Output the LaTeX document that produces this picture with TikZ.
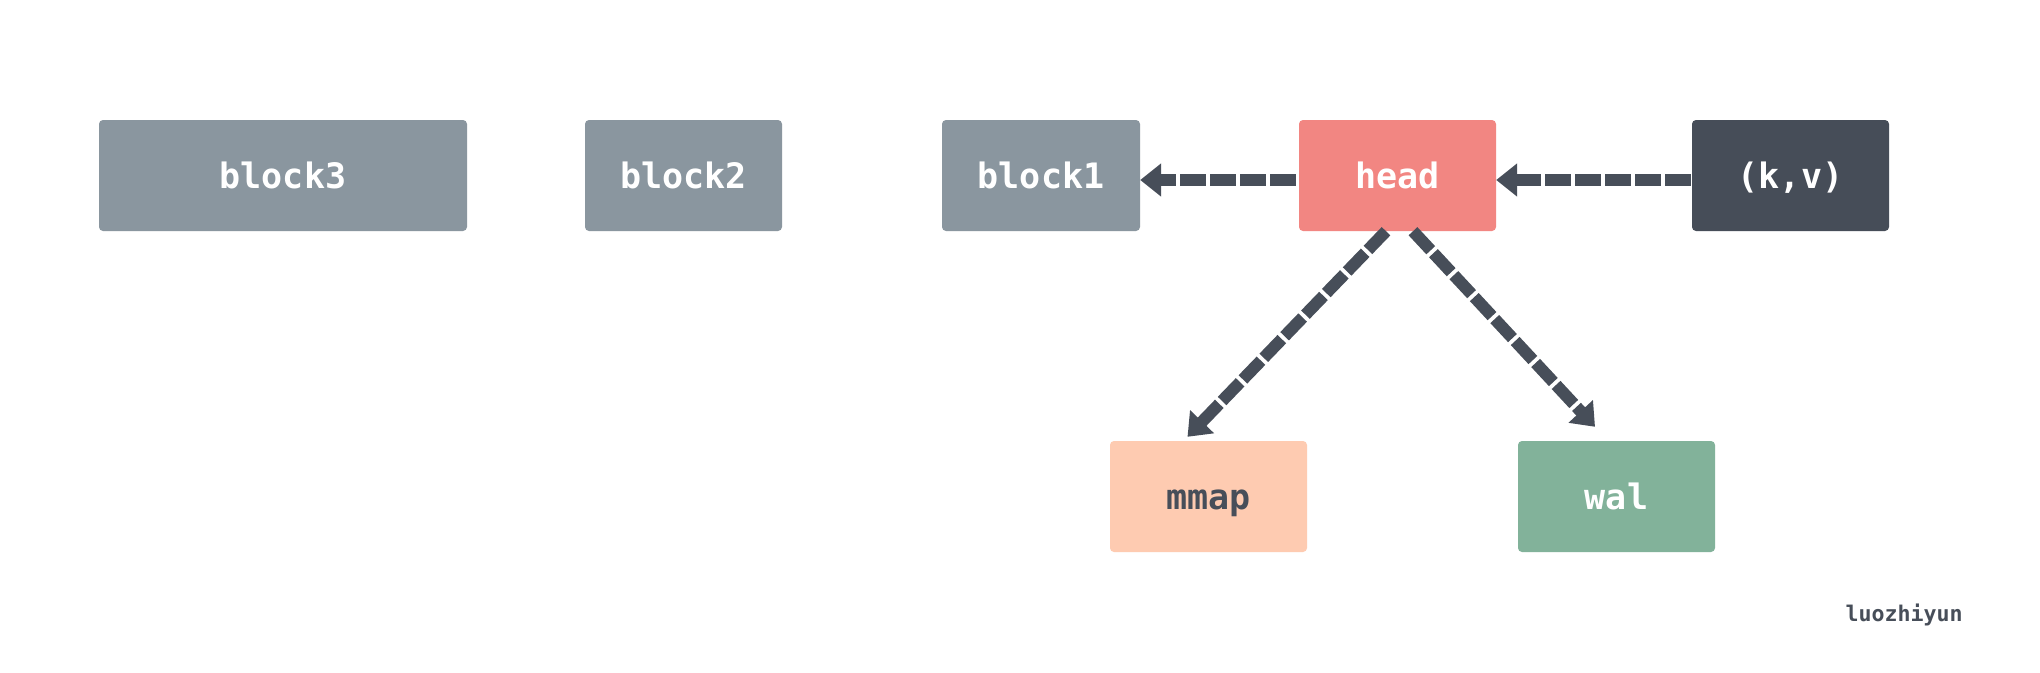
\documentclass[tikz,border=0pt]{standalone}
\usepackage{fontspec}
\setmonofont{DejaVu Sans Mono}
\usetikzlibrary{arrows.meta}
\definecolor{gblock}{HTML}{8A969F}
\definecolor{headc}{HTML}{F28682}
\definecolor{kvc}{HTML}{464D58}
\definecolor{mmapc}{HTML}{FECBB1}
\definecolor{walc}{HTML}{82B29A}
\definecolor{arrc}{HTML}{474E59}
\tikzset{
  box/.style={rectangle, rounded corners=4pt, minimum height=111pt, inner sep=0pt,
    text height=26.6pt, text depth=0pt, font=\ttfamily\bfseries\fontsize{35}{40}\selectfont, text=white},
  arr/.style={draw=arrc, line width=12pt, dash pattern=on 26pt off 4pt,
    -{Triangle[length=21pt,width=32pt]}}
}
\begin{document}
\begin{tikzpicture}[x=1pt,y=-1pt]
\useasboundingbox[fill=white] (0,0) rectangle (2040,672);
\node[box, fill=gblock, minimum width=368pt] (block3) at (283,175.5) {block3};
\node[box, fill=gblock, minimum width=197pt] (block2) at (683.5,175.5) {block2};
\node[box, fill=gblock, minimum width=198pt] (block1) at (1041,175.5) {block1};
\node[box, fill=headc, minimum width=197pt] (head) at (1397.5,175.5) {head};
\node[box, fill=kvc, minimum width=197pt] (kv) at (1790.5,175.5) {(k,v)};
\node[box, fill=mmapc, minimum width=197pt, text=arrc] (mmap) at (1208.5,496.5) {mmap};
\node[box, fill=walc, minimum width=197pt] (wal) at (1616.5,496.5) {wal};
\node[font=\ttfamily\bfseries\fontsize{21.6}{24}\selectfont, text=arrc, inner sep=0pt] (sig) at (1904,615) {luozhiyun};
\draw[arr] ([yshift=-4.5pt,xshift=-3pt]head.west) -- ([yshift=-4.5pt]block1.east);
\draw[arr] ([yshift=-4.5pt,xshift=-1pt]kv.west) -- ([yshift=-4.5pt]head.east);
\draw[arr] ([xshift=-11.5pt]head.south) -- ([xshift=-21pt,yshift=4pt]mmap.north);
\draw[arr] ([xshift=15.5pt]head.south) -- ([xshift=-21.5pt,yshift=14pt]wal.north);
\end{tikzpicture}
\end{document}
